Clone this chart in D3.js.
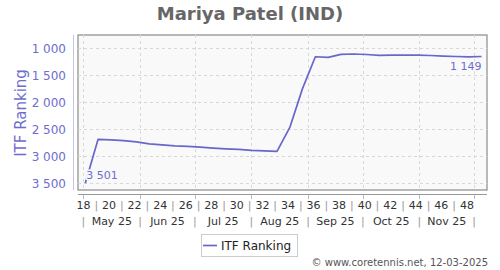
<!DOCTYPE html>
<html><head><meta charset="utf-8">
<script src="https://cdn.jsdelivr.net/npm/d3@7"></script>
<style>body{margin:0;background:#fff}svg{display:block;font-family:"DejaVu Sans",sans-serif}</style>
</head><body><svg id="c" width="500" height="270"></svg>
<script>
const title = "Mariya Patel (IND)";
const yTitle = "ITF Ranking";
const weeks = [18,19,20,21,22,23,24,25,26,27,28,29,30,31,32,33,34,35,36,37,38,39,40,41,42,43,44,45,46,47,48,49];
const ranking = [3501,2685,2695,2710,2732,2769,2788,2806,2816,2830,2847,2862,2872,2890,2900,2909,2465,1740,1153,1164,1108,1102,1112,1127,1125,1121,1125,1130,1140,1149,1155,1149];
const yTicks = [1000,1500,2000,2500,3000,3500];
const weekLabels = [18,20,22,24,26,28,30,32,34,36,38,40,42,44,46,48];
const weekSeparators = [19,21,23,25,27,29,31,33,35,37,39,41,43,45,47];
const months = ["2025-05-01","2025-06-01","2025-07-01","2025-08-01","2025-09-01","2025-10-01","2025-11-01","2025-12-01"];
const monthLabels = ["May 25","Jun 25","Jul 25","Aug 25","Sep 25","Oct 25","Nov 25"];
const footer = "© www.coretennis.net, 12-03-2025";

const loc = d3.formatLocale({decimal:".",thousands:"\u2009",grouping:[3],currency:["",""]});
const fmt = v => loc.format(",")(v).replace("\u2009"," ");
const P = d3.timeParse("%Y-%m-%d");
function weekMonday(w){ const jan4 = new Date(2025,0,4); const d = d3.timeMonday.floor(jan4); return d3.timeDay.offset(d,(w-1)*7); }
const pointDate = w => d3.timeDay.offset(weekMonday(w),4);
const weekTickDate = w => d3.timeDay.offset(weekMonday(w),3);

const L=78,R=487,T=35,B=190;
const x = d3.scaleTime().domain([P("2025-04-28"),P("2025-12-08")]).range([L,R]);
const y = d3.scaleLinear().domain([750,3625]).range([T,B]);
const svg = d3.select("#c");
const purple = "#6767cc", txtP="#6d6dcf";

svg.append("text").attr("x",250).attr("y",20).attr("text-anchor","middle")
  .attr("font-size",18).attr("font-weight","bold").attr("fill","#666").text(title);

svg.append("rect").attr("x",L).attr("y",T).attr("width",R-L).attr("height",B-T)
  .attr("fill","#f9f9f9").attr("stroke","#8a8a8a").attr("stroke-width",1.2);

const g = svg.append("g");
g.selectAll(".hg").data(yTicks).join("line").attr("x1",L).attr("x2",R)
  .attr("y1",d=>Math.round(y(d))+0.5).attr("y2",d=>Math.round(y(d))+0.5)
  .attr("stroke","#d8d8d8").attr("stroke-dasharray","3,3");
g.selectAll(".vg").data(months).join("line")
  .attr("x1",d=>Math.round(x(P(d)))+0.5).attr("x2",d=>Math.round(x(P(d)))+0.5)
  .attr("y1",T).attr("y2",B).attr("stroke","#d8d8d8").attr("stroke-dasharray","3,3");

svg.append("line").attr("x1",73.5).attr("x2",73.5).attr("y1",T).attr("y2",B).attr("stroke","#c4c4ea");
svg.selectAll(".yl").data(yTicks).join("text").attr("x",66).attr("y",d=>y(d)).attr("dy","0.36em")
  .attr("text-anchor","end").attr("font-size",12).attr("fill",txtP).text(fmt);
svg.append("text").attr("transform","translate(26,113) rotate(-90)").attr("text-anchor","middle")
  .attr("font-size",15).attr("fill",txtP).text(yTitle);

svg.append("line").attr("x1",L).attr("x2",R).attr("y1",194.5).attr("y2",194.5).attr("stroke","#999");
svg.selectAll(".xt").data(months).join("line")
  .attr("x1",d=>Math.round(x(P(d)))+0.5).attr("x2",d=>Math.round(x(P(d)))+0.5)
  .attr("y1",195).attr("y2",199).attr("stroke","#bbb");
svg.selectAll(".wl").data(weekLabels).join("text").attr("x",d=>x(weekTickDate(d))).attr("y",208.5)
  .attr("text-anchor","middle").attr("font-size",11).attr("fill","#333").text(d=>d);
svg.selectAll(".ws").data(weekSeparators).join("text").attr("x",d=>x(weekTickDate(d))).attr("y",208.5)
  .attr("text-anchor","middle").attr("font-size",11).attr("fill","#999").text("|");
svg.selectAll(".ms").data(months).join("text").attr("x",d=>x(P(d))).attr("y",224.5)
  .attr("text-anchor","middle").attr("font-size",11).attr("fill","#999").text("|");
svg.selectAll(".ml").data(monthLabels).join("text")
  .attr("x",(d,i)=>(x(P(months[i]))+x(P(months[i+1])))/2).attr("y",224.5)
  .attr("text-anchor","middle").attr("font-size",11).attr("fill","#333").text(d=>d);

const data = weeks.map((w,i)=>({d:pointDate(w),v:ranking[i]}));
svg.append("path").datum(data).attr("fill","none").attr("stroke",purple).attr("stroke-width",1.7)
  .attr("stroke-linejoin","round")
  .attr("d",d3.line().x(d=>x(d.d)).y(d=>y(d.v)));

const first = data[0], last = data[data.length-1];
svg.append("text").attr("x",x(first.d)+1).attr("y",178.5).attr("font-size",11).attr("fill",txtP)
  .attr("stroke","#f9f9f9").attr("stroke-width",3).attr("paint-order","stroke").text(fmt(first.v));
svg.append("text").attr("x",x(last.d)).attr("y",69.5).attr("text-anchor","end").attr("font-size",11).attr("fill",txtP)
  .attr("stroke","#f9f9f9").attr("stroke-width",3).attr("paint-order","stroke").text(fmt(last.v));

svg.append("rect").attr("x",201.5).attr("y",234.5).attr("width",96).attr("height",22)
  .attr("fill","#fff").attr("stroke","#ccc");
svg.append("line").attr("x1",203).attr("x2",217).attr("y1",245.5).attr("y2",245.5).attr("stroke",purple).attr("stroke-width",1.7);
svg.append("text").attr("x",221).attr("y",250).attr("font-size",12).attr("fill","#222").text(yTitle);

svg.append("text").attr("x",488).attr("y",266).attr("text-anchor","end").attr("font-size",10).attr("fill","#555").text(footer);
</script></body></html>
